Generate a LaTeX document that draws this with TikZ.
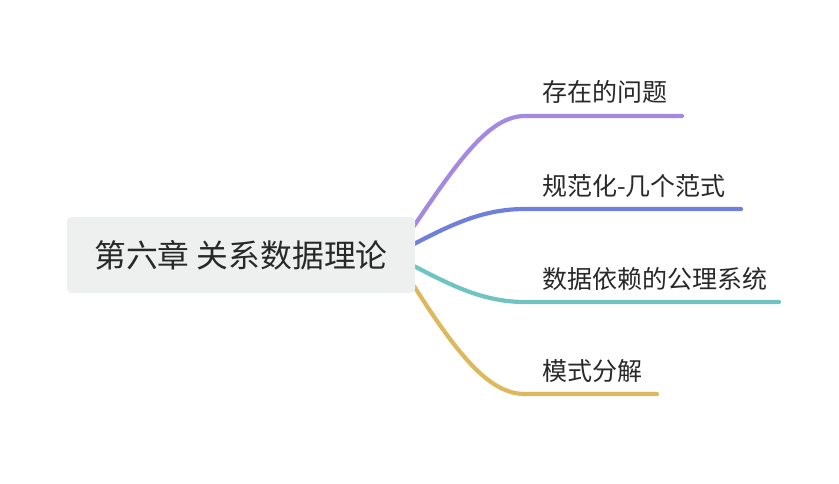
\documentclass[tikz,border=0pt]{standalone}
\usepackage{fontspec}
\newfontfamily\cjk{Noto Sans CJK SC}
\definecolor{cpurple}{RGB}{164,137,226}
\definecolor{cblue}{RGB}{110,128,218}
\definecolor{cteal}{RGB}{110,196,194}
\definecolor{cyellow}{RGB}{222,184,92}
\definecolor{rootfill}{RGB}{238,240,239}
\definecolor{txt}{RGB}{40,40,40}
\begin{document}
\begin{tikzpicture}[x=1pt,y=-1pt,
  branch/.style={line width=4.2pt,line cap=round},
  rootbox/.style={fill=rootfill,rounded corners=4pt,minimum width=348pt,minimum height=76pt,inner sep=0pt,text=txt,font=\cjk\fontsize{31.8pt}{36pt}\selectfont},
  leaf/.style={anchor=west,inner sep=0pt,text=txt,font=\cjk\fontsize{25pt}{28pt}\selectfont}]
\useasboundingbox (0,0) rectangle (839,483);
% end coordinates
\coordinate (s1) at (414,226);
\coordinate (s2) at (414,244);
\coordinate (s3) at (414,266);
\coordinate (s4) at (414,286);
\coordinate (e1) at (682,116);
\coordinate (e2) at (741,209);
\coordinate (e3) at (779,302);
\coordinate (e4) at (657,394);
% branches
\draw[branch,cpurple] (s1) .. controls (460,158) and (490,116) .. (525,116) -- (e1);
\draw[branch,cblue] (s2) .. controls (454,223) and (485,209) .. (525,209) -- (e2);
\draw[branch,cteal] (s3) .. controls (454,287) and (485,302) .. (525,302) -- (e3);
\draw[branch,cyellow] (s4) .. controls (462,362) and (492,394) .. (525,394) -- (e4);
% root
\node[rootbox] (root) at (241,255) {第六章 关系数据理论};
% leaves
\node[leaf] (l1) at (542,92) {存在的问题};
\node[leaf] (l2) at (542,186) {规范化-几个范式};
\node[leaf] (l3) at (542,279) {数据依赖的公理系统};
\node[leaf] (l4) at (542,371) {模式分解};
\end{tikzpicture}
\end{document}
